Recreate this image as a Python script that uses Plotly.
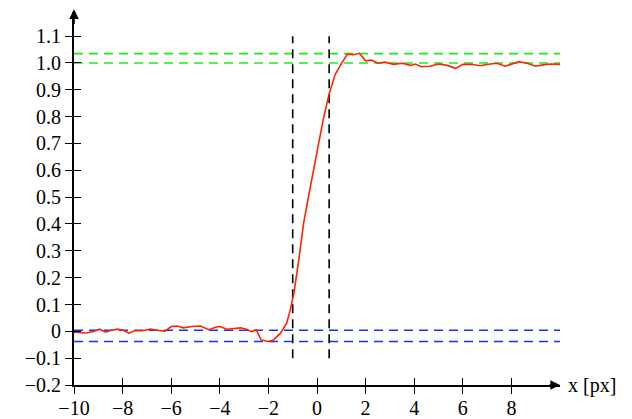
import plotly.graph_objects as go

# ---- data ----
x_vals = [-10, -9.5, -9.2, -8.95, -8.7, -8.5, -8.2, -7.95, -7.75, -7.5, -7.2, -6.85, -6.6, -6.25,
          -6.0, -5.75, -5.5, -5.15, -4.8, -4.45, -4.15, -4.0, -3.7, -3.45, -3.15, -2.9, -2.7, -2.5,
          -2.3, -2.0, -1.8, -1.5, -1.25, -1.1, -0.95, -0.75, -0.55, -0.35, -0.15, 0.05, 0.25, 0.5,
          0.75, 1.0, 1.25, 1.5, 1.75, 2.0, 2.25, 2.5, 2.8, 3.15, 3.5, 3.85, 4.05, 4.3, 4.65, 5.0,
          5.35, 5.7, 6.0, 6.35, 6.7, 7.05, 7.4, 7.75, 8.0, 8.3, 8.65, 9.0, 9.3, 9.6, 10.0]
y_vals = [-0.003, -0.006, -0.001, 0.008, -0.003, 0.003, 0.008, 0.003, -0.007, 0.002, 0.002, 0.008,
          0.004, 0.001, 0.018, 0.02, 0.013, 0.018, 0.02, 0.006, 0.016, 0.018, 0.008, 0.01, 0.013,
          0.008, -0.001, 0.006, -0.032, -0.038, -0.032, -0.007, 0.03, 0.08, 0.142, 0.266, 0.403,
          0.502, 0.601, 0.70, 0.787, 0.885, 0.958, 0.997, 1.033, 1.031, 1.036, 1.008, 1.011, 0.999,
          1.003, 0.995, 0.999, 0.991, 0.996, 0.986, 0.988, 0.996, 0.991, 0.98, 0.995, 0.995, 0.99,
          0.995, 0.999, 0.988, 0.996, 1.005, 0.999, 0.988, 0.993, 0.996, 0.995]

green_levels = [1.0, 1.035]
blue_levels = [0.004, -0.038]
vline_x = [-1.0, 0.5]
vline_y = [-0.1, 1.1]

x_ticks = [-10, -8, -6, -4, -2, 0, 2, 4, 6, 8]
x_ticktext = ["\u221210", "\u22128", "\u22126", "\u22124", "\u22122", "0", "2", "4", "6", "8"]
y_ticks = [-0.2, -0.1, 0, 0.1, 0.2, 0.3, 0.4, 0.5, 0.6, 0.7, 0.8, 0.9, 1.0, 1.1]
y_ticktext = ["\u22120.2", "\u22120.1", "0", "0.1", "0.2", "0.3", "0.4", "0.5", "0.6", "0.7",
              "0.8", "0.9", "1.0", "1.1"]

x_range = [-10, 10]
y_range = [-0.2, 1.19]

FONT = "Liberation Serif, Times New Roman, serif"
tickfont = dict(family=FONT, size=20, color="black")
dash = "9px,6px"

fig = go.Figure()
for lv in blue_levels:
    fig.add_trace(go.Scatter(x=x_range, y=[lv, lv], mode="lines",
                             line=dict(color="rgb(20,50,255)", width=1.6, dash=dash),
                             showlegend=False, hoverinfo="skip"))
for lv in green_levels:
    fig.add_trace(go.Scatter(x=x_range, y=[lv, lv], mode="lines",
                             line=dict(color="rgb(30,235,30)", width=1.6, dash=dash),
                             showlegend=False, hoverinfo="skip"))
for vx in vline_x:
    fig.add_trace(go.Scatter(x=[vx, vx], y=vline_y, mode="lines",
                             line=dict(color="black", width=1.6, dash=dash),
                             showlegend=False, hoverinfo="skip"))
fig.add_trace(go.Scatter(x=x_vals, y=y_vals, mode="lines",
                         line=dict(color="rgb(255,35,0)", width=1.6),
                         showlegend=False, hoverinfo="skip", cliponaxis=False))
# dummy trace to activate overlay axes (inner half of ticks)
fig.add_trace(go.Scatter(x=[None], y=[None], xaxis="x2", yaxis="y2",
                         showlegend=False, hoverinfo="skip"))

axis_common = dict(showgrid=False, zeroline=False, automargin=False)
fig.update_layout(
    width=632, height=419, autosize=False,
    margin=dict(l=74, r=72, t=12, b=34, pad=0),
    paper_bgcolor="white", plot_bgcolor="white",
    font=dict(family=FONT, size=20, color="black"),
    xaxis=dict(range=x_range, tickvals=x_ticks, ticktext=x_ticktext, ticks="outside",
               ticklen=7, tickwidth=1, tickcolor="black", showline=True, linewidth=2,
               linecolor="black", tickfont=tickfont, ticklabelstandoff=-3, **axis_common),
    yaxis=dict(range=y_range, tickvals=y_ticks, ticktext=y_ticktext, ticks="outside",
               ticklen=7, tickwidth=1, tickcolor="black", showline=True, linewidth=2,
               linecolor="black", tickfont=tickfont, **axis_common),
    xaxis2=dict(range=x_range, overlaying="x", side="bottom", tickvals=x_ticks,
                ticks="inside", ticklen=7, tickwidth=1, tickcolor="black",
                showticklabels=False, showline=False, **axis_common),
    yaxis2=dict(range=y_range, overlaying="y", side="left", tickvals=y_ticks,
                ticks="inside", ticklen=7, tickwidth=1, tickcolor="black",
                showticklabels=False, showline=False, **axis_common),
)

# axis arrowheads
fig.add_annotation(x=x_range[1], y=y_range[0], ax=x_range[1] - 0.5, ay=y_range[0],
                   xref="x", yref="y", axref="x", ayref="y", text="", showarrow=True,
                   arrowhead=2, arrowsize=1.2, arrowwidth=1.6, arrowcolor="black")
fig.add_annotation(x=x_range[0], y=y_range[1] + 0.01, ax=x_range[0], ay=y_range[1] - 0.05,
                   xref="x", yref="y", axref="x", ayref="y", text="", showarrow=True,
                   arrowhead=2, arrowsize=1.2, arrowwidth=1.6, arrowcolor="black")
fig.add_annotation(x=1, y=y_range[0], xref="paper", yref="y", xanchor="left",
                   yanchor="middle", xshift=6, text="x [px]", showarrow=False,
                   font=dict(family=FONT, size=20, color="black"))

fig.write_html("out.html", config={"displayModeBar": False},
               post_script="document.body.style.margin='0';document.body.style.overflow='hidden';")
